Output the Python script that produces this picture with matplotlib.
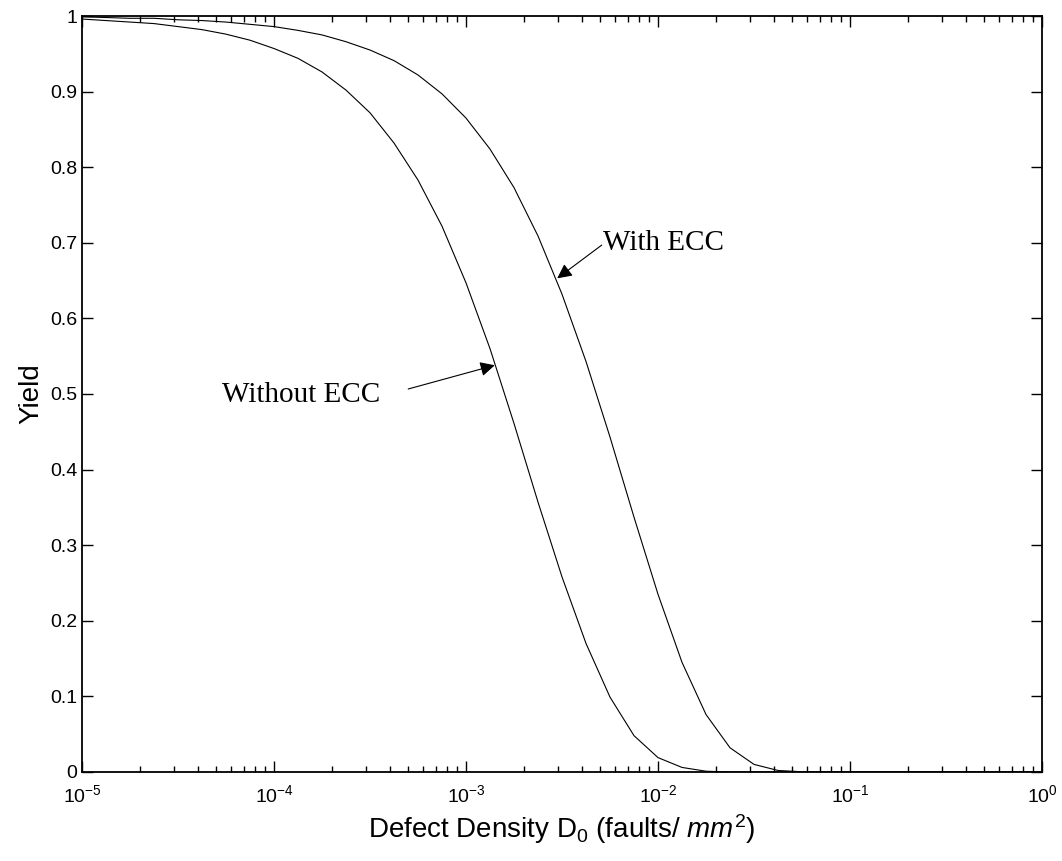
import matplotlib
matplotlib.use('Agg')
import matplotlib.pyplot as plt
import numpy as np

plt.rcParams['font.family'] = ['Liberation Sans', 'DejaVu Sans']
plt.rcParams['mathtext.fontset'] = 'custom'
plt.rcParams['mathtext.rm'] = 'Liberation Sans'
plt.rcParams['mathtext.it'] = 'Liberation Sans:italic'

# values: log10 of defect density and yield
log_d = [-5.0, -4.875, -4.75, -4.625, -4.5, -4.375, -4.25, -4.125, -4.0, -3.875,
         -3.75, -3.625, -3.5, -3.375, -3.25, -3.125, -3.0, -2.875, -2.75,
         -2.625, -2.5, -2.375, -2.25, -2.125, -2.0, -1.875, -1.75, -1.625,
         -1.5, -1.375, -1.25, -1.125, -1.0, 0.0]
yield_without = [0.996, 0.994, 0.992, 0.990, 0.986, 0.982, 0.976, 0.968, 0.957, 0.944,
                 0.926, 0.902, 0.872, 0.832, 0.783, 0.722, 0.647, 0.560, 0.461,
                 0.357, 0.258, 0.170, 0.099, 0.048, 0.019, 0.006, 0.001, 0.0,
                 0.0, 0.0, 0.0, 0.0, 0.0, 0.0]
yield_with = [0.999, 0.998, 0.997, 0.997, 0.995, 0.994, 0.992, 0.989, 0.986, 0.981,
              0.975, 0.966, 0.955, 0.941, 0.922, 0.897, 0.865, 0.824, 0.773,
              0.709, 0.632, 0.543, 0.443, 0.337, 0.235, 0.145, 0.076, 0.032,
              0.010, 0.002, 0.0003, 0.0, 0.0, 0.0]

y_ticks = [0, 0.1, 0.2, 0.3, 0.4, 0.5, 0.6, 0.7, 0.8, 0.9, 1]
y_tick_labels = ['0', '0.1', '0.2', '0.3', '0.4', '0.5', '0.6', '0.7', '0.8', '0.9', '1']

fig = plt.figure(figsize=(10.62, 8.61), dpi=100)
ax = fig.add_axes([0.0772, 0.1034, 0.9040, 0.8780])

d = 10 ** np.array(log_d)
ax.plot(d, yield_without, color='k', lw=0.8)
ax.plot(d, yield_with, color='k', lw=0.8)

ax.set_xscale('log')
ax.set_xlim(1e-5, 1)
ax.set_ylim(0, 1)
ax.set_yticks(y_ticks)
ax.set_yticklabels(y_tick_labels)

ax.tick_params(which='both', direction='in', top=True, right=True, labelsize=14, width=1)
ax.tick_params(which='major', length=8)
ax.tick_params(which='minor', length=4)
ax.tick_params(axis='x', which='major', pad=9)
for s in ax.spines.values():
    s.set_linewidth(1.3)

ax.set_ylabel('Yield', fontsize=20)
ax.set_xlabel(r'Defect Density D$_0$ (faults/ $\mathit{mm}^2$)', fontsize=20, labelpad=4)

# annotations: text and arrow drawn separately
arrow = dict(arrowstyle='-|>', color='k', lw=0.8, mutation_scale=22, shrinkA=0, shrinkB=0)
ax.text(10 ** -2.287, 0.700, 'With ECC', fontsize=21, family='Liberation Serif',
        ha='left', va='center')
ax.annotate('', xy=(10 ** -2.525, 0.653), xytext=(10 ** -2.293, 0.697), arrowprops=arrow)

ax.text(10 ** -3.448, 0.4987, 'Without ECC', fontsize=21, family='Liberation Serif',
        ha='right', va='center')
ax.annotate('', xy=(10 ** -2.85, 0.538), xytext=(10 ** -3.301, 0.5066), arrowprops=arrow)

fig.savefig('out.png', dpi=100)
